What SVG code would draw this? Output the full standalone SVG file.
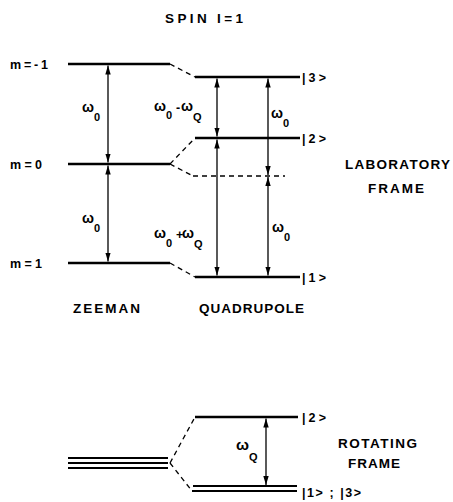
<svg xmlns="http://www.w3.org/2000/svg" width="453" height="502" viewBox="0 0 453 502">
<style>
.lvl{stroke:#000;stroke-width:2.4;fill:none}
.thin{stroke-width:2}
.dash{stroke:#000;stroke-width:1.3;stroke-dasharray:5,4;fill:none}
.arr{stroke:#000;stroke-width:1.3;fill:none;marker-start:url(#ah);marker-end:url(#ah)}
text{font-family:"Liberation Sans",Arial,sans-serif;fill:#000;font-weight:bold}
.lab{font-size:12.5px}
.big{font-size:13.5px}
.om{font-size:15px}
.sub{font-size:11px}
</style>
<defs>
<marker id="ah" viewBox="0 0 10 6" refX="10" refY="3" markerWidth="9" markerHeight="6" orient="auto-start-reverse" markerUnits="userSpaceOnUse">
<path d="M0,0 L10,3 L0,6 z" fill="#000"/>
</marker>
</defs>
<rect width="453" height="502" fill="#fff"/>
<text x="165" y="23" class="big" textLength="78" lengthAdjust="spacing">SPIN I=1</text>

<g id="zeeman-m-1"><line class="lvl" x1="68" y1="64" x2="170" y2="64"/><text x="10" y="68.5" class="lab" textLength="38" lengthAdjust="spacing">m=-1</text></g>
<g id="zeeman-m0"><line class="lvl" x1="68" y1="164" x2="170" y2="164"/><text x="10" y="168.5" class="lab" textLength="32" lengthAdjust="spacing">m=0</text></g>
<g id="zeeman-m1"><line class="lvl" x1="68" y1="263" x2="170" y2="263"/><text x="10" y="267.5" class="lab" textLength="32" lengthAdjust="spacing">m=1</text></g>

<g id="quad-3"><line class="lvl" x1="195" y1="77" x2="300" y2="77"/><text x="302" y="82" class="lab" textLength="24" lengthAdjust="spacing">|3&gt;</text></g>
<g id="quad-2"><line class="lvl" x1="195" y1="138" x2="300" y2="138"/><text x="302" y="143" class="lab" textLength="24" lengthAdjust="spacing">|2&gt;</text></g>
<g id="quad-0"><line class="dash" x1="193" y1="176" x2="285" y2="176"/></g>
<g id="quad-1"><line class="lvl" x1="195" y1="277" x2="300" y2="277"/><text x="302" y="282" class="lab" textLength="24" lengthAdjust="spacing">|1&gt;</text></g>

<g id="rot-degenerate">
<line class="lvl thin" x1="68" y1="458" x2="168" y2="458"/>
<line class="lvl thin" x1="68" y1="463" x2="168" y2="463"/>
<line class="lvl thin" x1="68" y1="468" x2="168" y2="468"/>
</g>
<g id="rot-2"><line class="lvl" x1="195" y1="417" x2="298" y2="417"/><text x="302" y="422" class="lab" textLength="24" lengthAdjust="spacing">|2&gt;</text></g>
<g id="rot-13">
<line class="lvl thin" x1="193" y1="486" x2="297" y2="486"/>
<line class="lvl thin" x1="192" y1="491" x2="297" y2="491"/>
<text x="302" y="497" class="lab" textLength="59" lengthAdjust="spacing">|1&gt; ; |3&gt;</text>
</g>

<g id="labels">
<text x="73" y="313" class="big" textLength="67" lengthAdjust="spacing">ZEEMAN</text>
<text x="199" y="313" class="big" textLength="105" lengthAdjust="spacing">QUADRUPOLE</text>
<text x="345" y="169" class="big" textLength="105" lengthAdjust="spacing">LABORATORY</text>
<text x="368" y="193" class="big" textLength="56" lengthAdjust="spacing">FRAME</text>
<text x="338" y="448" class="big" textLength="79" lengthAdjust="spacing">ROTATING</text>
<text x="348" y="468" class="big" textLength="52" lengthAdjust="spacing">FRAME</text>
</g>

<g id="connectors">
<line class="dash" x1="170" y1="64" x2="195" y2="77"/>
<line class="dash" x1="170" y1="164" x2="195" y2="138"/>
<line class="dash" x1="170" y1="164" x2="193" y2="176"/>
<line class="dash" x1="170" y1="263" x2="195" y2="277"/>
<line class="dash" x1="170" y1="463" x2="195" y2="417"/>
<line class="dash" x1="170" y1="463" x2="192" y2="491"/>

<line class="arr" x1="108" y1="65.5" x2="108" y2="162.5"/>
<line class="arr" x1="108" y1="165.5" x2="108" y2="261.5"/>
<line class="arr" x1="217" y1="78.5" x2="217" y2="136.5"/>
<line class="arr" x1="217" y1="139.5" x2="217" y2="275.5"/>
<line class="arr" x1="268" y1="78.5" x2="268" y2="175"/>
<line class="arr" x1="268" y1="177" x2="268" y2="275.5"/>
<line class="arr" x1="266" y1="418.5" x2="266" y2="485"/>
</g>

<g id="freq-labels">
<text x="82" y="112" class="om" textLength="12" lengthAdjust="spacingAndGlyphs">ω</text><text x="94" y="121" class="sub">0</text>
<text x="82" y="223" class="om" textLength="12" lengthAdjust="spacingAndGlyphs">ω</text><text x="94" y="232" class="sub">0</text>
<text x="154" y="111" class="om" textLength="12" lengthAdjust="spacingAndGlyphs">ω</text><text x="166" y="119" class="sub">0</text>
<text x="176" y="112" class="lab">-</text>
<text x="181" y="111" class="om" textLength="12" lengthAdjust="spacingAndGlyphs">ω</text><text x="193" y="121" class="sub">Q</text>
<text x="271" y="118" class="om" textLength="12" lengthAdjust="spacingAndGlyphs">ω</text><text x="283" y="127" class="sub">0</text>
<text x="154" y="238" class="om" textLength="12" lengthAdjust="spacingAndGlyphs">ω</text><text x="166" y="247" class="sub">0</text>
<text x="176" y="239" class="lab">+</text>
<text x="182" y="238" class="om" textLength="12" lengthAdjust="spacingAndGlyphs">ω</text><text x="194" y="248" class="sub">Q</text>
<text x="272" y="232" class="om" textLength="12" lengthAdjust="spacingAndGlyphs">ω</text><text x="284" y="241" class="sub">0</text>
<text x="236" y="450" class="om" textLength="13" lengthAdjust="spacingAndGlyphs">ω</text><text x="249" y="461" class="sub">Q</text>
</g>
</svg>
